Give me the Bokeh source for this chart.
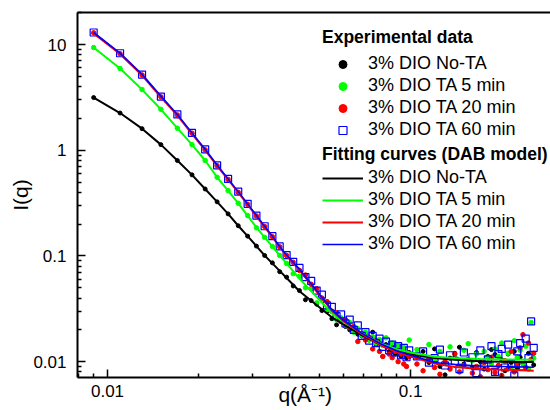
from bokeh.plotting import figure
from bokeh.models import (Range1d, FixedTicker, LogAxis, Legend, LegendItem)
from bokeh.embed import file_html
from bokeh.resources import INLINE

# ---------------- data ----------------
q_low = [0.009, 0.011, 0.013, 0.015, 0.017, 0.019, 0.021, 0.023, 0.025, 0.027,
         0.029, 0.031, 0.033, 0.035, 0.037, 0.039, 0.041, 0.043, 0.045, 0.047,
         0.049, 0.051, 0.053, 0.055, 0.057, 0.059, 0.061, 0.063, 0.065, 0.067,
         0.069, 0.071, 0.073, 0.075, 0.077, 0.079, 0.081, 0.083, 0.085, 0.087,
         0.089, 0.091, 0.093, 0.095, 0.097, 0.099]
q_high = [0.105, 0.110, 0.115, 0.120, 0.125, 0.130, 0.135, 0.140, 0.145, 0.150,
          0.155, 0.160, 0.165, 0.170, 0.175, 0.180, 0.185, 0.190, 0.195, 0.200,
          0.205, 0.210, 0.215, 0.220, 0.225, 0.230, 0.235, 0.240, 0.245, 0.250, 0.255]
q_data = q_low + q_high

notA_data = [3.15, 2.25, 1.60, 1.13, 0.80, 0.585, 0.43, 0.325, 0.250, 0.193,
             0.154, 0.124, 0.101, 0.086, 0.071, 0.063, 0.052, 0.047, 0.0385, 0.0378,
             0.035, 0.0304, 0.030, 0.0255, 0.0223, 0.0240, 0.0215, 0.0200, 0.0212, 0.0182,
             0.0175, 0.0185, 0.0160, 0.0190, 0.0145, 0.0150, 0.0112, 0.0145, 0.0125, 0.0138,
             0.0118, 0.0130, 0.0112, 0.0128, 0.0108, 0.0122,
             0.0110, 0.0125, 0.0098, 0.0132, 0.0090, 0.0075, 0.0108, 0.0120, 0.0137, 0.0095,
             0.0105, 0.0088, 0.0122, 0.0100, 0.0085, 0.0112, 0.0130, 0.0117, 0.0092, 0.0104,
             0.0082, 0.0118, 0.0098, 0.0125, 0.0086, 0.0110, 0.0095, 0.0088, 0.0120, 0.0102, 0.0093]

ta5_data = [9.37, 5.93, 3.75, 2.44, 1.616, 1.13, 0.80, 0.555, 0.415, 0.315,
            0.241, 0.1845, 0.150, 0.123, 0.101, 0.085, 0.068, 0.064, 0.050, 0.049,
            0.036, 0.039, 0.031, 0.030, 0.025, 0.026, 0.022, 0.0235, 0.019, 0.0205,
            0.0178, 0.0190, 0.0160, 0.0172, 0.0150, 0.0162, 0.0142, 0.0168, 0.0138, 0.0150,
            0.0128, 0.0142, 0.0125, 0.0136, 0.0120, 0.0160,
            0.0130, 0.0112, 0.0145, 0.0105, 0.0125, 0.0098, 0.0138, 0.0110, 0.0092, 0.0128,
            0.0148, 0.0102, 0.0118, 0.0090, 0.0125, 0.0108, 0.0095, 0.0132, 0.0112, 0.0150,
            0.0100, 0.0120, 0.0088, 0.0158, 0.0110, 0.0128, 0.0096, 0.0140, 0.0085, 0.0235, 0.0108]

ta20_data = [12.9, 8.2, 5.15, 3.2, 2.16, 1.45, 1.01, 0.715, 0.53, 0.40,
             0.308, 0.239, 0.19, 0.152, 0.122, 0.101, 0.087, 0.073, 0.066, 0.054,
             0.049, 0.040, 0.037, 0.030, 0.029, 0.024, 0.025, 0.021, 0.0215, 0.0155,
             0.0185, 0.0160, 0.0170, 0.0132, 0.0158, 0.0125, 0.0112, 0.0140, 0.0118, 0.0109,
             0.0125, 0.0100, 0.0118, 0.0095, 0.0090, 0.0112,
             0.0095, 0.0082, 0.0108, 0.0088, 0.0076, 0.0100, 0.0085, 0.0118, 0.0080, 0.0092,
             0.0105, 0.0078, 0.0090, 0.0072, 0.0098, 0.0084, 0.0110, 0.0079, 0.0092, 0.0074,
             0.0102, 0.0086, 0.0125, 0.0080, 0.0095, 0.0135, 0.0180, 0.0088, 0.0150, 0.0105, 0.0120]

ta60_data = [13.0, 8.27, 5.20, 3.22, 2.18, 1.46, 1.02, 0.72, 0.536, 0.406,
             0.311, 0.241, 0.191, 0.154, 0.123, 0.102, 0.088, 0.077, 0.063, 0.058,
             0.047, 0.043, 0.034, 0.033, 0.027, 0.028, 0.023, 0.025, 0.020, 0.022,
             0.0175, 0.019, 0.0158, 0.0175, 0.0150, 0.0165, 0.0138, 0.0155, 0.0128, 0.0145,
             0.0122, 0.0140, 0.0115, 0.0135, 0.0110, 0.0128,
             0.0112, 0.0125, 0.0098, 0.0108, 0.0130, 0.0092, 0.0115, 0.0102, 0.0085, 0.0122,
             0.0096, 0.0110, 0.0078, 0.0128, 0.0090, 0.0105, 0.0140, 0.0080, 0.0118, 0.0132,
             0.0088, 0.0145, 0.0095, 0.0074, 0.0125, 0.0150, 0.0090, 0.0165, 0.0108, 0.0240, 0.0135]

q_fit = [0.009, 0.011, 0.013, 0.015, 0.017, 0.019, 0.021, 0.023, 0.025, 0.027,
         0.029, 0.031, 0.033, 0.035, 0.037, 0.039, 0.043, 0.05, 0.055, 0.06,
         0.07, 0.08, 0.09, 0.1, 0.12, 0.14, 0.17, 0.2, 0.255]
notA_fit = [3.15, 2.25, 1.60, 1.13, 0.80, 0.585, 0.43, 0.325, 0.250, 0.193,
            0.154, 0.124, 0.101, 0.085, 0.0722, 0.0618, 0.0464, 0.0327, 0.0263, 0.0225,
            0.01745, 0.0143, 0.01265, 0.01175, 0.0108, 0.0104, 0.0101, 0.0100, 0.0099]
ta5_fit = [9.37, 5.93, 3.75, 2.44, 1.62, 1.13, 0.80, 0.555, 0.415, 0.315,
           0.241, 0.186, 0.150, 0.123, 0.101, 0.085, 0.061, 0.0385, 0.0286, 0.0238,
           0.0181, 0.0148, 0.0131, 0.0122, 0.0111, 0.0108, 0.0106, 0.0105, 0.0104]
ta20_fit = [12.75, 8.15, 5.12, 3.19, 2.14, 1.43, 1.0, 0.712, 0.527, 0.40,
            0.306, 0.238, 0.188, 0.151, 0.121, 0.100, 0.0735, 0.0428, 0.0305, 0.0243,
            0.0178, 0.0143, 0.0123, 0.0112, 0.0096, 0.0089, 0.0085, 0.0084, 0.0082]
ta60_fit = [13.0, 8.3, 5.22, 3.25, 2.18, 1.46, 1.02, 0.725, 0.536, 0.406,
            0.311, 0.242, 0.191, 0.154, 0.123, 0.102, 0.075, 0.0436, 0.031, 0.0247,
            0.0181, 0.0147, 0.0127, 0.0115, 0.0098, 0.0094, 0.0091, 0.0090, 0.00885]

series_labels = ["3% DIO No-TA", "3% DIO TA 5 min", "3% DIO TA 20 min", "3% DIO TA 60 min"]
legend_titles = ["Experimental data", "Fitting curves (DAB model)"]
x_tick_labels = {0.01: "0.01", 0.1: "0.1"}
y_tick_labels = {0.01: "0.01", 0.1: "0.1", 1: "1", 10: "10"}
x_label = "q(Å⁻¹)"
y_label = "I(q)"

FONT = "Liberation Sans"

# ---------------- figure ----------------
p = figure(width=550, height=410, x_axis_type="log", y_axis_type="log",
           x_range=Range1d(0.00796, 0.2897), y_range=Range1d(0.00708, 20.1),
           output_backend="svg", toolbar_location=None,
           min_border_left=77, min_border_right=0, min_border_top=12, min_border_bottom=33)
p.outline_line_color = None
p.grid.visible = False
p.background_fill_color = "white"
p.border_fill_color = "white"

x_minor = [0.008, 0.009] + [k / 100 for k in range(2, 10)] + [0.2]
y_minor = [0.008, 0.009] + [k * 10.0 ** e for e in (-2, -1, 0) for k in range(2, 10)] + [20]
p.xaxis[0].ticker = FixedTicker(ticks=list(x_tick_labels.keys()), minor_ticks=x_minor)
p.yaxis[0].ticker = FixedTicker(ticks=list(y_tick_labels.keys()), minor_ticks=y_minor)
p.xaxis[0].major_label_overrides = x_tick_labels
p.yaxis[0].major_label_overrides = y_tick_labels

for ax in (p.xaxis[0], p.yaxis[0]):
    ax.axis_line_width = 2
    ax.axis_line_color = "black"
    ax.major_tick_in = 8
    ax.major_tick_out = 0
    ax.minor_tick_in = 4
    ax.minor_tick_out = 0
    ax.major_tick_line_width = 1.5
    ax.minor_tick_line_width = 1.5
    ax.major_tick_line_color = "black"
    ax.minor_tick_line_color = "black"
    ax.major_label_text_font = FONT
    ax.major_label_text_font_size = "17px"
    ax.major_label_text_color = "black"
    ax.axis_label_text_font = FONT
    ax.axis_label_text_font_size = "21px"
    ax.axis_label_text_font_style = "normal"
    ax.axis_label_text_color = "black"
p.xaxis[0].major_label_standoff = 7
p.yaxis[0].major_label_standoff = 11

p.yaxis[0].axis_label = y_label
p.yaxis[0].axis_label_standoff = -2
# trailing no-break spaces move the centred label a little to the left, as in the reference
p.xaxis[0].axis_label = x_label + "\u00a0\u00a0\u00a0"
p.xaxis[0].axis_label_standoff = -17

top = LogAxis(ticker=FixedTicker(ticks=[], minor_ticks=[]), axis_line_width=2,
              axis_line_color="black", major_label_text_font_size="0px",
              major_tick_in=0, major_tick_out=0, minor_tick_in=0, minor_tick_out=0)
p.add_layout(top, "above")

# ---------------- data marks ----------------
r0 = p.scatter(q_data, notA_data, marker="circle", size=4, color="black")
r1 = p.scatter(q_data, ta5_data, marker="circle", size=4.5, color="#00ff00")
r2 = p.scatter(q_data, ta20_data, marker="circle", size=4.5, color="#ff0000")
r3 = p.scatter(q_data, ta60_data, marker="square", size=7, fill_color=None,
               line_color="#0000ff", line_width=1.2)

l0 = p.line(q_fit, notA_fit, line_color="black", line_width=2)
l1 = p.line(q_fit, ta5_fit, line_color="#00ff00", line_width=2)
l2 = p.line(q_fit, ta20_fit, line_color="#ff0000", line_width=2)
l3 = p.line(q_fit, ta60_fit, line_color="#0000ff", line_width=1.6)

def make_legend(title, renderers, loc, standoff):
    lg = Legend(items=[LegendItem(label=lab, renderers=[r]) for lab, r in zip(series_labels, renderers)],
                location=loc, title=title,
                title_text_font=FONT, title_text_font_size="17.5px", title_text_font_style="bold",
                title_text_color="black", title_standoff=standoff,
                label_text_font=FONT, label_text_font_size="18px", label_text_color="black",
                glyph_width=41, glyph_height=20, label_height=20, spacing=1,
                label_standoff=5, padding=0, margin=0,
                border_line_color=None, background_fill_alpha=0)
    p.add_layout(lg)

make_legend(legend_titles[0], [r0, r1, r2, r3], (245, 237), 5)
make_legend(legend_titles[1], [l0, l1, l2, l3], (245, 123), 2)

open("out.html", "w").write(file_html(p, INLINE))
